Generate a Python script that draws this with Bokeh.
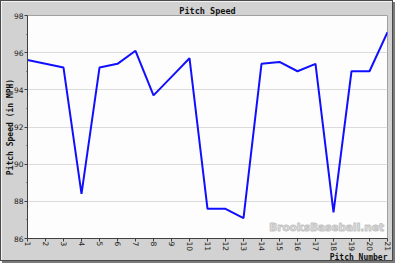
from bokeh.plotting import figure
from bokeh.models import FixedTicker, Label, Range1d, Title
from bokeh.embed import file_html
from bokeh.resources import INLINE

pitch_numbers = list(range(1, 22))
pitch_speeds = [95.6, 95.4, 95.2, 88.4, 95.2, 95.4, 96.1, 93.7, 94.7, 95.7,
                87.6, 87.6, 87.1, 95.4, 95.5, 95.0, 95.4, 87.4, 95.0, 95.0, 97.1]
y_major_ticks = [86, 88, 90, 92, 94, 96, 98]
y_minor_ticks = [87, 89, 91, 93, 95, 97]
title_text = "Pitch Speed"
y_title = "Pitch Speed (in MPH)"
x_title = "Pitch Number"
watermark = "BrooksBaseball.net"

p = figure(width=393, height=261, output_backend="svg", toolbar_location=None,
           x_range=Range1d(1, 21), y_range=Range1d(86, 98),
           min_border_left=26, min_border_right=7, min_border_top=14, min_border_bottom=21)
p.styles = {"border": "1px solid #4a4a4a", "box-shadow": "2px 2px 0 #7a7a7a"}
p.border_fill_color = "#d2d2d2"
p.background_fill_color = "#fdfdfd"
p.outline_line_color = "#a0a0a0"

p.line(pitch_numbers, pitch_speeds, line_color="#1010ff", line_width=2)

p.xgrid.grid_line_color = None
p.ygrid.grid_line_color = "#dcdcdc"
p.ygrid.ticker = FixedTicker(ticks=y_major_ticks)

p.yaxis.ticker = FixedTicker(ticks=y_major_ticks, minor_ticks=y_minor_ticks)
p.xaxis.ticker = FixedTicker(ticks=pitch_numbers)
for ax in (p.xaxis[0], p.yaxis[0]):
    ax.axis_line_color = "#404040"
    ax.major_tick_line_color = "#404040"
    ax.minor_tick_line_color = "#404040"
    ax.major_tick_out = 3
    ax.major_tick_in = 0
    ax.minor_tick_out = 1
    ax.minor_tick_in = 0
    ax.major_label_text_font = "DejaVu Sans"
    ax.major_label_text_font_size = "7.5px"
    ax.major_label_text_color = "#222222"
    ax.major_label_standoff = 1
    ax.axis_label_text_font = "DejaVu Sans Mono"
    ax.axis_label_text_font_style = "bold"
    ax.axis_label_text_font_size = "8px"
    ax.axis_label_text_color = "#111111"
p.xaxis.minor_tick_line_color = None
p.xaxis.major_label_orientation = "vertical"
p.xaxis.major_label_standoff = 0
p.yaxis.axis_label = y_title
p.yaxis.axis_label_standoff = -4


def make_title(text, align, size, standoff, valign):
    kw = dict(text=text, align=align, offset=0, text_font="DejaVu Sans Mono",
              text_font_style="bold", text_font_size=size, text_color="#111111",
              vertical_align=valign)
    try:
        return Title(standoff=standoff, **kw)
    except ValueError:
        return Title(standoff=0, **kw)


p.add_layout(make_title(title_text, "center", "8.5px", -2, "middle"), "above")
p.add_layout(make_title(x_title, "right", "8px", -3, "top"), "below")

p.add_layout(Label(x=20.8, y=86.3, text=watermark, text_align="right", text_baseline="bottom",
                   text_font="DejaVu Sans", text_font_style="bold", text_font_size="10.5px",
                   text_color="#e4e4e4", text_outline_color="#c4c4c4"))

open("out.html", "w").write(file_html(p, INLINE))
